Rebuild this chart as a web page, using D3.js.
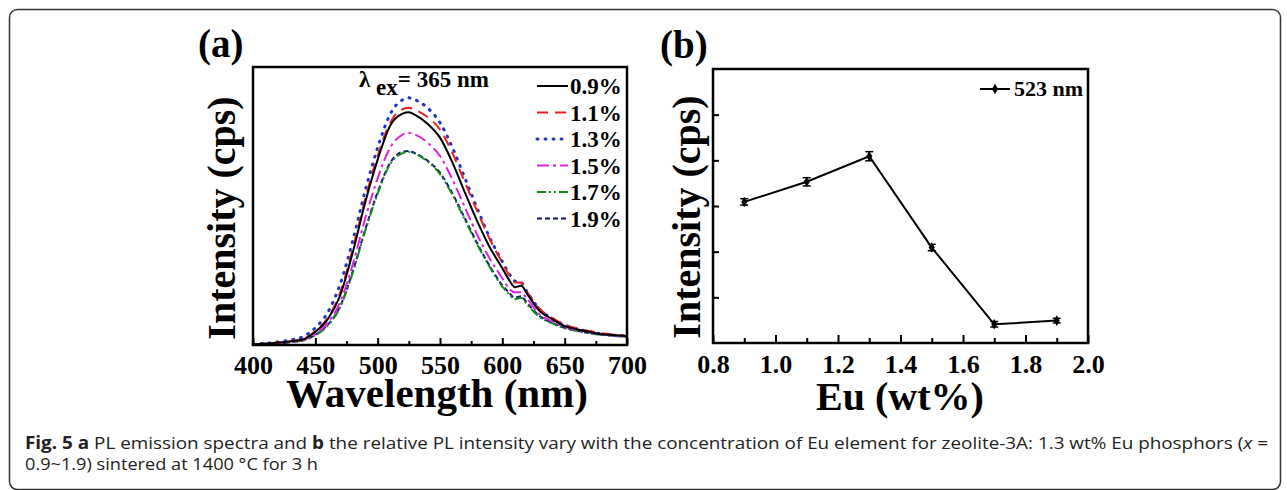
<!DOCTYPE html>
<html lang="en">
<head>
<meta charset="UTF-8">
<title>PL emission spectra and Eu concentration</title>
<style>
  body { margin: 0; background: #fff; }
  svg { display: block; }
  .serif { font-family: 'Liberation Serif', 'Times New Roman', serif; font-weight: bold; fill: #000; }
  .caption { font-family: 'Open Sans', 'Noto Sans', sans-serif; font-size: 17px; fill: #222; }
  .axis path { display: none; }
  .axis line { stroke: #000; stroke-width: 2; }
</style>
</head>
<body>
<svg id="chart" width="1287" height="490"></svg>
<script src="https://d3js.org/d3.v7.min.js"></script>
<script>
// ---- data: panel (a) PL emission spectra (normalised intensity) ----
const wavelengths = [400, 410, 420, 430, 440, 450, 460, 470, 480, 490, 500, 510, 520, 525, 530, 540, 550, 560, 570, 580, 590, 600, 605, 610, 615, 620, 630, 640, 650, 660, 670, 680, 690, 700];
const eu09 = [0.002, 0.005, 0.009, 0.013, 0.020, 0.048, 0.093, 0.179, 0.333, 0.513, 0.667, 0.789, 0.832, 0.837, 0.828, 0.796, 0.746, 0.656, 0.548, 0.444, 0.351, 0.276, 0.237, 0.208, 0.213, 0.183, 0.122, 0.093, 0.068, 0.057, 0.047, 0.039, 0.036, 0.032];
const eu11 = [0.002, 0.005, 0.009, 0.014, 0.022, 0.050, 0.098, 0.190, 0.345, 0.525, 0.680, 0.800, 0.848, 0.853, 0.846, 0.820, 0.775, 0.690, 0.585, 0.480, 0.380, 0.295, 0.255, 0.225, 0.225, 0.190, 0.130, 0.098, 0.073, 0.060, 0.050, 0.042, 0.037, 0.033];
const eu13 = [0.003, 0.006, 0.011, 0.018, 0.030, 0.062, 0.118, 0.220, 0.375, 0.555, 0.710, 0.830, 0.882, 0.889, 0.882, 0.853, 0.800, 0.710, 0.600, 0.490, 0.385, 0.300, 0.260, 0.230, 0.225, 0.190, 0.128, 0.095, 0.072, 0.058, 0.048, 0.040, 0.035, 0.032];
const eu15 = [0.002, 0.004, 0.007, 0.011, 0.018, 0.040, 0.080, 0.155, 0.290, 0.455, 0.600, 0.710, 0.757, 0.763, 0.757, 0.728, 0.680, 0.595, 0.495, 0.395, 0.310, 0.240, 0.205, 0.190, 0.190, 0.165, 0.110, 0.085, 0.065, 0.053, 0.045, 0.038, 0.034, 0.030];
const eu17 = [0.002, 0.004, 0.006, 0.010, 0.016, 0.035, 0.070, 0.137, 0.260, 0.410, 0.545, 0.650, 0.690, 0.695, 0.688, 0.660, 0.615, 0.540, 0.450, 0.360, 0.280, 0.210, 0.185, 0.165, 0.170, 0.145, 0.100, 0.078, 0.060, 0.050, 0.042, 0.036, 0.032, 0.029];
const eu19 = [0.002, 0.004, 0.006, 0.010, 0.017, 0.037, 0.073, 0.140, 0.265, 0.415, 0.550, 0.655, 0.695, 0.698, 0.690, 0.663, 0.620, 0.545, 0.455, 0.365, 0.283, 0.215, 0.190, 0.170, 0.175, 0.150, 0.104, 0.080, 0.062, 0.051, 0.043, 0.037, 0.033, 0.030];
const seriesLabels = ["0.9%", "1.1%", "1.3%", "1.5%", "1.7%", "1.9%"];
const seriesColors = ["#000000", "#ee1c1c", "#1f33c8", "#e020e0", "#128a1e", "#15157a"];
const seriesDashes = ["none", "11,7", "1,7", "12,4,3,4", "9,3,2,3,2,3", "5,3"];
const waveTicks = [400, 450, 500, 550, 600, 650, 700];
const waveMinor = [425, 475, 525, 575, 625, 675];

// ---- data: panel (b) intensity at 523 nm vs Eu content ----
const euContent = [0.9, 1.1, 1.3, 1.5, 1.7, 1.9];
const peakIntensity = [3.09, 3.53, 4.09, 2.09, 0.41, 0.49];
const peakError = [0.07, 0.09, 0.10, 0.07, 0.06, 0.05];
const euTicks = [0.8, 1.0, 1.2, 1.4, 1.6, 1.8, 2.0];
const euMinor = [0.9, 1.1, 1.3, 1.5, 1.7, 1.9];
const intensityTicks = [1, 2, 3, 4, 5];

const svg = d3.select("#chart");

// outer rounded frame of the figure
svg.append("rect")
    .attr("x", 9.5).attr("y", 9.5)
    .attr("width", 1271).attr("height", 480)
    .attr("rx", 8)
    .attr("fill", "none")
    .attr("stroke", "#333")
    .attr("stroke-width", 1.5);

const tickFont = g => g.selectAll("text")
    .attr("font-size", 26)
    .attr("font-family", "'Liberation Serif', serif")
    .attr("font-weight", "bold")
    .attr("fill", "#000");

// ================= panel (a) =================
const a = { left: 253, right: 627, top: 67, bottom: 345 };
const xA = d3.scaleLinear().domain([400, 700]).range([a.left, a.right]);
const yA = d3.scaleLinear().domain([0, 1]).range([a.bottom, a.top]);

const gA = svg.append("g");

const spectra = [eu09, eu11, eu13, eu15, eu17, eu19];
const line = d3.line()
    .x((d, i) => xA(wavelengths[i]))
    .y(d => yA(d))
    .curve(d3.curveMonotoneX);

// draw from last to first so the solid black sits on top
spectra.map((s, i) => i).reverse().forEach(i => {
    gA.append("path")
        .datum(spectra[i])
        .attr("d", line)
        .attr("fill", "none")
        .attr("stroke", seriesColors[i])
        .attr("stroke-width", i === 2 ? 3 : 2)
        .attr("stroke-linecap", i === 2 ? "round" : "butt")
        .attr("stroke-dasharray", seriesDashes[i]);
});

// x axis, ticks inward
gA.append("g")
    .attr("class", "axis")
    .attr("transform", `translate(0,${a.bottom})`)
    .call(d3.axisBottom(xA).tickValues(waveTicks).tickSize(-7).tickPadding(11).tickFormat(d3.format("d")))
    .call(tickFont);
gA.append("g")
    .attr("class", "axis")
    .attr("transform", `translate(0,${a.bottom})`)
    .call(d3.axisBottom(xA).tickValues(waveMinor).tickSize(-4).tickFormat(""));

gA.append("rect")
    .attr("x", a.left).attr("y", a.top)
    .attr("width", a.right - a.left).attr("height", a.bottom - a.top)
    .attr("fill", "none").attr("stroke", "#000").attr("stroke-width", 2.5);

gA.append("text").attr("class", "serif")
    .attr("x", 198).attr("y", 57).attr("font-size", 39).text("(a)");

gA.append("text").attr("class", "serif")
    .attr("x", 437).attr("y", 407)
    .attr("text-anchor", "middle").attr("font-size", 41)
    .text("Wavelength (nm)");

gA.append("text").attr("class", "serif")
    .attr("transform", "translate(235,218) rotate(-90)")
    .attr("text-anchor", "middle").attr("font-size", 40)
    .text("Intensity (cps)");

// excitation label
const ex = gA.append("text").attr("class", "serif").attr("x", 359).attr("y", 87).attr("font-size", 23);
ex.append("tspan").text("λ ");
ex.append("tspan").attr("dy", 8).text("ex");
ex.append("tspan").attr("dy", -8).text("= 365 nm");

// legend
const legA = gA.append("g");
seriesLabels.forEach((lab, i) => {
    const yb = 94 + i * 26.5;
    legA.append("line")
        .attr("x1", 537).attr("x2", 568)
        .attr("y1", yb - 8).attr("y2", yb - 8)
        .attr("stroke", seriesColors[i])
        .attr("stroke-width", i === 2 ? 3 : 2)
        .attr("stroke-linecap", i === 2 ? "round" : "butt")
        .attr("stroke-dasharray", seriesDashes[i]);
    legA.append("text").attr("class", "serif")
        .attr("x", 570).attr("y", yb).attr("font-size", 23).text(lab);
});

// ================= panel (b) =================
const b = { left: 713, right: 1088, top: 69, bottom: 343 };
const xB = d3.scaleLinear().domain([0.8, 2.0]).range([b.left, b.right]);
const yB = d3.scaleLinear().domain([0, 6]).range([b.bottom, b.top]);

const gB = svg.append("g");

gB.append("path")
    .datum(peakIntensity)
    .attr("d", d3.line().x((d, i) => xB(euContent[i])).y(d => yB(d)))
    .attr("fill", "none").attr("stroke", "#000").attr("stroke-width", 2);

// error bars
const eb = gB.selectAll(".err").data(peakIntensity).join("g").attr("class", "err");
eb.append("line")
    .attr("x1", (d, i) => xB(euContent[i])).attr("x2", (d, i) => xB(euContent[i]))
    .attr("y1", (d, i) => yB(d - peakError[i])).attr("y2", (d, i) => yB(d + peakError[i]))
    .attr("stroke", "#000").attr("stroke-width", 1.5);
[-1, 1].forEach(sgn => {
    eb.append("line")
        .attr("x1", (d, i) => xB(euContent[i]) - 4).attr("x2", (d, i) => xB(euContent[i]) + 4)
        .attr("y1", (d, i) => yB(d + sgn * peakError[i])).attr("y2", (d, i) => yB(d + sgn * peakError[i]))
        .attr("stroke", "#000").attr("stroke-width", 1.5);
});
gB.selectAll(".pt").data(peakIntensity).join("path").attr("class", "pt")
    .attr("transform", (d, i) => `translate(${xB(euContent[i])},${yB(d)})`)
    .attr("d", d3.symbol(d3.symbolDiamond, 32))
    .attr("fill", "#000");

gB.append("g")
    .attr("class", "axis")
    .attr("transform", `translate(0,${b.bottom})`)
    .call(d3.axisBottom(xB).tickValues(euTicks).tickSize(-8).tickPadding(12).tickFormat(d3.format(".1f")))
    .call(tickFont);
gB.append("g")
    .attr("class", "axis")
    .attr("transform", `translate(0,${b.bottom})`)
    .call(d3.axisBottom(xB).tickValues(euMinor).tickSize(-5).tickFormat(""));
gB.append("g")
    .attr("class", "axis")
    .attr("transform", `translate(${b.left},0)`)
    .call(d3.axisLeft(yB).tickValues(intensityTicks).tickSize(-6).tickFormat(""));

gB.append("rect")
    .attr("x", b.left).attr("y", b.top)
    .attr("width", b.right - b.left).attr("height", b.bottom - b.top)
    .attr("fill", "none").attr("stroke", "#000").attr("stroke-width", 2.5);

gB.append("text").attr("class", "serif")
    .attr("x", 660).attr("y", 58).attr("font-size", 39).text("(b)");

gB.append("text").attr("class", "serif")
    .attr("x", 900).attr("y", 410)
    .attr("text-anchor", "middle").attr("font-size", 40)
    .text("Eu (wt%)");

gB.append("text").attr("class", "serif")
    .attr("transform", "translate(700,217) rotate(-90)")
    .attr("text-anchor", "middle").attr("font-size", 40)
    .text("Intensity (cps)");

// legend
gB.append("line").attr("x1", 980).attr("x2", 1010).attr("y1", 89).attr("y2", 89)
    .attr("stroke", "#000").attr("stroke-width", 2);
gB.append("path").attr("transform", "translate(995,89)")
    .attr("d", d3.symbol(d3.symbolDiamond, 32)).attr("fill", "#000");
gB.append("text").attr("class", "serif")
    .attr("x", 1014).attr("y", 96).attr("font-size", 22).text("523 nm");

// ================= caption =================
const cap1 = svg.append("text").attr("class", "caption")
    .attr("x", 25).attr("y", 449)
    .attr("textLength", 1243).attr("lengthAdjust", "spacingAndGlyphs");
cap1.append("tspan").attr("font-weight", "bold").text("Fig. 5 a");
cap1.append("tspan").text(" PL emission spectra and ");
cap1.append("tspan").attr("font-weight", "bold").text("b");
cap1.append("tspan").text(" the relative PL intensity vary with the concentration of Eu element for zeolite-3A: 1.3 wt% Eu phosphors (");
cap1.append("tspan").attr("font-style", "italic").text("x");
cap1.append("tspan").text(" =");

svg.append("text").attr("class", "caption")
    .attr("x", 25).attr("y", 470)
    .attr("textLength", 293).attr("lengthAdjust", "spacingAndGlyphs")
    .text("0.9~1.9) sintered at 1400 °C for 3 h");
</script>
</body>
</html>
